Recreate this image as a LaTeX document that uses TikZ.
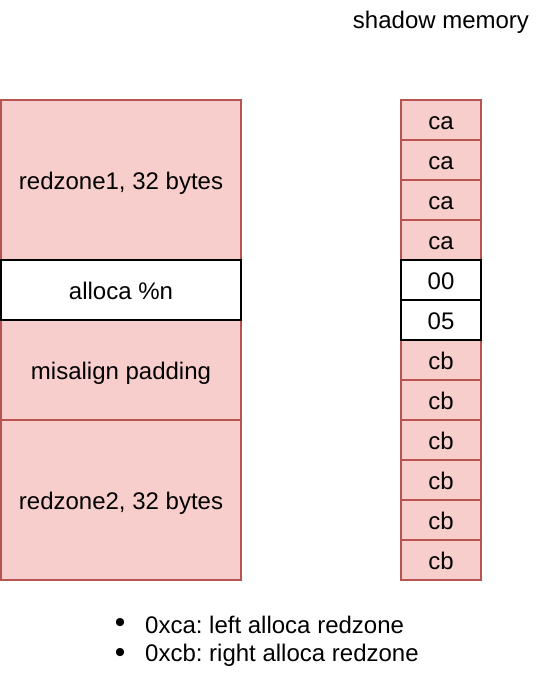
\documentclass[tikz,border=0pt]{standalone}
\usepackage{fontspec}
\setmainfont{Liberation Sans}
\usetikzlibrary{positioning}
\definecolor{zonefill}{RGB}{248,206,204}
\definecolor{zoneline}{RGB}{184,84,80}
\frenchspacing

\begin{document}
\begin{tikzpicture}[x=1pt, y=-1pt, font=\fontsize{24}{28}\selectfont,
  zone/.style={draw=zoneline, fill=zonefill, line width=1.5pt, minimum width=240pt,
    inner sep=0pt, text height=22pt, text depth=3.2pt},
  plain/.style={draw=black, fill=white, line width=1.5pt, minimum width=240pt,
    inner sep=0pt, text height=22pt, text depth=3.2pt},
  cell/.style={minimum width=80pt, minimum height=40pt}]
  \useasboundingbox (0,0) rectangle (542,682);
  % stack frame
  \node[zone, minimum height=160pt] (rz1) at (121,180) {redzone1, 32 bytes};
  \node[zone, minimum height=100pt] (pad) at (121,370) {misalign padding};
  \node[zone, minimum height=160pt] (rz2) at (121,500) {redzone2, 32 bytes};
  \node[plain, minimum height=60pt] (var) at (121,290) {alloca \%n};
  % shadow bytes (white ones last so their borders stay on top)
  \node[anchor=base] (title) at (441,29) {shadow memory};
  \foreach \v/\s/\k in {ca/zone/1,ca/zone/2,ca/zone/3,ca/zone/4,cb/zone/7,cb/zone/8,
      cb/zone/9,cb/zone/10,cb/zone/11,cb/zone/12,00/plain/5,05/plain/6}
    \node[\s, cell] (sh\k) at (441,80+40*\k) {\v};
  % legend
  \node[font=\fontsize{30}{30}\selectfont] (b1) at (120,625) {\textbullet};
  \node[anchor=west, inner sep=0pt] (l1) at (145,625) {0xca: left alloca redzone};
  \node[font=\fontsize{30}{30}\selectfont] (b2) at (120,655) {\textbullet};
  \node[anchor=west, inner sep=0pt] (l2) at (145,655) {0xcb: right alloca redzone};
\end{tikzpicture}
\end{document}
